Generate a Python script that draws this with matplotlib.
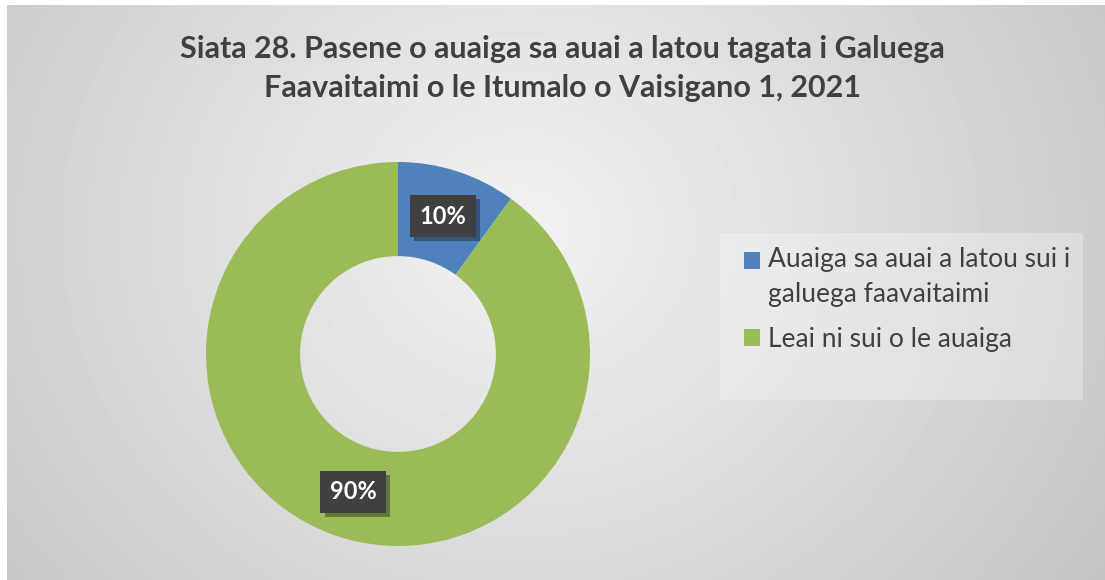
import numpy as np
import matplotlib
matplotlib.use("Agg")
import matplotlib.pyplot as plt
import matplotlib.patheffects as pe
from matplotlib.patches import Rectangle, Patch

plt.rcParams['font.family'] = ['Lato', 'DejaVu Sans']

title = "Siata 28. Pasene o auaiga sa auai a latou tagata i Galuega\nFaavaitaimi o le Itumalo o Vaisigano 1, 2021"
categories = ["Auaiga sa auai a latou sui i\ngaluega faavaitaimi", "Leai ni sui o le auaiga"]
values = [10, 90]
colors = ["#4F81BD", "#9BBB59"]

W, H = 1105, 580
fig = plt.figure(figsize=(W / 100, H / 100), dpi=100)

# background: radial grey gradient over the chart area, white strip top/left
bg = fig.add_axes([0, 0, 1, 1])
bg.set_axis_off()
yy, xx = np.mgrid[0:H, 0:W]
d = np.sqrt(((xx - 520) / 1.0) ** 2 + ((yy - 230) / 0.9) ** 2) / 700
d = np.clip(d, 0, 1)
img = 0.95 - 0.18 * d
img[:5, :] = 1.0
img[:, :7] = 1.0
bg.imshow(img, cmap="gray", vmin=0, vmax=1, extent=[0, W, H, 0], aspect="auto")
bg.set_xlim(0, W)
bg.set_ylim(H, 0)

# title
fig.text(0.509, 0.882, title, ha="center", va="center", fontsize=22,
         fontweight="bold", color="#404040", linespacing=1.45)

# donut
cx, cy, r = 398, 354, 192
ax = fig.add_axes([(cx - r) / W, (H - cy - r) / H, 2 * r / W, 2 * r / H])
wedges, _ = ax.pie(values, colors=colors, startangle=90, counterclock=False,
                   radius=1, wedgeprops=dict(width=0.49, linewidth=0))
ax.set_xlim(-1, 1)
ax.set_ylim(-1, 1)
ax.set_aspect("equal")
ax.set_axis_off()

for w, v in zip(wedges, values):
    ang = np.deg2rad((w.theta1 + w.theta2) / 2)
    rr = 1 - 0.49 / 2
    t = ax.text(rr * np.cos(ang), rr * np.sin(ang), f"{v}%", ha="center", va="center",
                fontsize=17, fontweight="bold", color="white",
                bbox=dict(boxstyle="square,pad=0.4", facecolor="#404040", edgecolor="none"))
    t.get_bbox_patch().set_path_effects([
        pe.SimplePatchShadow(offset=(3, -3), shadow_rgbFace="#000000", alpha=0.35),
        pe.Normal()])

# legend box
bg.add_patch(Rectangle((720, 233), 363, 167, facecolor="white", alpha=0.3, edgecolor="none"))
handles = [Patch(facecolor=c, edgecolor="none") for c in colors]
leg = fig.legend(handles, categories, loc="upper left", bbox_to_anchor=(731 / W, 1 - 234 / H),
                 frameon=False, fontsize=19, labelcolor="#404040", handlelength=0.6,
                 handleheight=0.6, handletextpad=0.3, labelspacing=0.75, borderpad=0)
for t in leg.get_texts():
    t.set_linespacing(1.5)
# put the marker of the two-line entry next to its first line
h0 = leg.legend_handles[0]
h0.set_y(h0.get_y() + 12.5)

fig.savefig("out.png", dpi=100)
